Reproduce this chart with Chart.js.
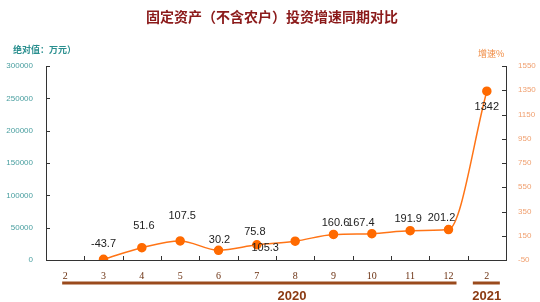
<!DOCTYPE html>
<html>
<head>
<meta charset="utf-8">
<script src="https://cdn.jsdelivr.net/npm/chart.js@4"></script>
<style>
  html, body { margin: 0; padding: 0; background: #fff; }
  #wrap { width: 540px; height: 302px; position: relative; }
</style>
</head>
<body>
<div id="wrap"><canvas id="chart"></canvas></div>
<script>
/* ---- Data ---- */
const months = ['2', '3', '4', '5', '6', '7', '8', '9', '10', '11', '12', '2'];
const growthRate = [null, -43.7, 51.6, 107.5, 30.2, 75.8, 105.3, 160.6, 167.4, 191.9, 201.2, 1342];
const leftTicks = [0, 50000, 100000, 150000, 200000, 250000, 300000];
const rightTicks = [-50, 150, 350, 550, 750, 950, 1150, 1350, 1550];
const years = [
  { label: '2020', from: 0, to: 10 },
  { label: '2021', from: 11, to: 11 }
];

const title = '固定资产（不含农户）投资增速同期对比';
const leftTitle = '绝对值：万元）';
const rightTitle = '增速%';

// label nudges (dx, dy) relative to each point
const labelShift = [
  null, [0, -15], [2, -22], [2, -25], [1, -10], [-2, -13], [-30, 7],
  [2, -11], [-11, -11], [-2, -12], [-7, -12], [0, 16]
];

/* ---- Decorations ---- */
const extras = {
  id: 'extras',
  afterDraw(chart) {
    const { ctx, chartArea: a } = chart;
    const x = chart.scales.x, yl = chart.scales.yl, yr = chart.scales.yr;
    ctx.save();

    // title
    ctx.fillStyle = '#8b1a1a';
    ctx.font = 'bold 14px "Noto Sans CJK SC"';
    ctx.textAlign = 'center';
    ctx.textBaseline = 'middle';
    ctx.fillText(title, 272, 17);

    ctx.font = 'bold 9px "Noto Sans CJK SC"';
    ctx.textAlign = 'left';
    ctx.fillStyle = '#2a8f8f';
    ctx.fillText(leftTitle, 13, 50);
    ctx.font = '9px "Noto Sans CJK SC"';
    ctx.fillStyle = '#f08a40';
    ctx.fillText(rightTitle, 478, 54);

    // inward tick marks
    ctx.strokeStyle = '#333';
    ctx.lineWidth = 1;
    ctx.beginPath();
    yl.ticks.forEach((t, i) => {
      const py = Math.round(yl.getPixelForTick(i)) + 0.5;
      ctx.moveTo(a.left, py); ctx.lineTo(a.left + 4, py);
    });
    yr.ticks.forEach((t, i) => {
      const py = Math.round(yr.getPixelForTick(i)) + 0.5;
      ctx.moveTo(a.right, py); ctx.lineTo(a.right - 4, py);
    });
    for (let i = 1; i < months.length; i++) {
      const px = Math.round((x.getPixelForValue(i - 1) + x.getPixelForValue(i)) / 2) + 0.5;
      ctx.moveTo(px, a.bottom); ctx.lineTo(px, a.bottom - 4);
    }
    ctx.stroke();

    // data labels
    ctx.fillStyle = '#222';
    ctx.font = '11px "Liberation Sans"';
    ctx.textAlign = 'center';
    ctx.textBaseline = 'middle';
    chart.getDatasetMeta(0).data.forEach((pt, i) => {
      const v = growthRate[i];
      if (v === null) return;
      const s = labelShift[i];
      ctx.fillText(String(v), pt.x + s[0], pt.y + s[1]);
    });

    // year bars
    ctx.strokeStyle = '#9a4a1c';
    ctx.fillStyle = '#8b3a12';
    ctx.lineWidth = 3;
    ctx.font = 'bold 13px "Liberation Sans"';
    years.forEach(yr0 => {
      const single = yr0.from === yr0.to;
      const x1 = x.getPixelForValue(yr0.from) - (single ? 14 : 3);
      const x2 = x.getPixelForValue(yr0.to) + (single ? 13 : 8);
      ctx.beginPath();
      ctx.moveTo(x1, 283); ctx.lineTo(x2, 283);
      ctx.stroke();
    });
    ctx.fillText(years[0].label, 292, 296);
    ctx.fillText(years[1].label, x.getPixelForValue(11), 296);

    ctx.restore();
  }
};

/* ---- Chart ---- */
new Chart(document.getElementById('chart'), {
  type: 'line',
  data: {
    labels: months,
    datasets: [{
      data: growthRate,
      yAxisID: 'yr',
      borderColor: '#ff7416',
      backgroundColor: '#ff6a00',
      pointBackgroundColor: '#ff6a00',
      pointBorderColor: '#ff6a00',
      pointRadius: 4,
      borderWidth: 1.5,
      cubicInterpolationMode: 'monotone',
      spanGaps: true
    }]
  },
  options: {
    responsive: true,
    maintainAspectRatio: false,
    animation: false,
    layout: { padding: { top: 66, left: 0, right: 0, bottom: 0 } },
    plugins: { legend: { display: false }, tooltip: { enabled: false }, title: { display: false } },
    scales: {
      x: {
        offset: true,
        grid: { display: false },
        border: { color: '#333', width: 1 },
        ticks: { color: '#6b3010', font: { family: 'Liberation Serif', size: 10 }, padding: 2, maxRotation: 0 },
        afterFit(s) { s.height = 42; }
      },
      yl: {
        position: 'left',
        min: 0, max: 300000,
        afterBuildTicks(s) { s.ticks = leftTicks.map(v => ({ value: v })); },
        grid: { display: false },
        border: { color: '#333', width: 1 },
        ticks: { color: '#4a9fa0', font: { family: 'Liberation Sans', size: 8 }, padding: 5, callback: v => String(v) },
        afterFit(s) { s.width = 46; }
      },
      yr: {
        position: 'right',
        min: -50, max: 1550,
        afterBuildTicks(s) { s.ticks = rightTicks.map(v => ({ value: v })); },
        grid: { display: false },
        border: { color: '#333', width: 1 },
        ticks: { color: '#f0a070', font: { family: 'Liberation Sans', size: 8 }, padding: 4, callback: v => String(v) },
        afterFit(s) { s.width = 34; }
      }
    }
  },
  plugins: [extras]
});
</script>
</body>
</html>
